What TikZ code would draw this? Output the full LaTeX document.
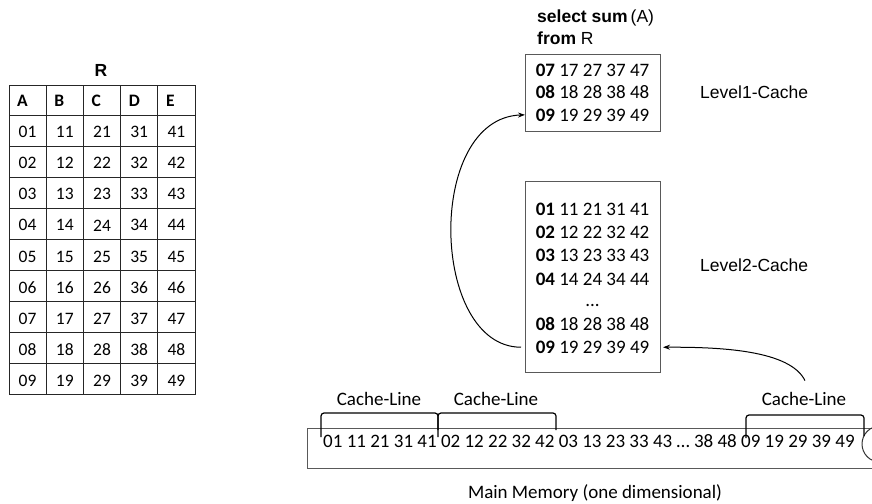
\documentclass[tikz,border=0pt]{standalone}
\usepackage{fontspec}
\setmainfont{Carlito}
\newfontfamily\arialf{Liberation Sans}
\usetikzlibrary{arrows.meta,calc}
\begin{document}
\begin{tikzpicture}[x=1pt,y=-1pt,
  cal/.style={font=\fontsize{19}{23}\selectfont, inner sep=0pt},
  tabtxt/.style={font=\fontsize{17.5}{21}\selectfont, inner sep=0pt},
  tabhead/.style={font=\bfseries\fontsize{17.5}{21}\selectfont, inner sep=0pt},
  ar/.style={font=\arialf\fontsize{17.5}{21}\selectfont, inner sep=0pt},
  cachebox/.style={draw=black!65, line width=1pt, inner sep=0pt},
  gridline/.style={line width=1pt, black!85},
  bracket/.style={line width=1.2pt, rounded corners=3pt},
  flow/.style={-{Stealth[length=7pt,width=5pt]}, line width=1pt},
]
\useasboundingbox (0,0) rectangle (872,503);
\clip (0,0) rectangle (872,503);

% ---------- table R ----------
\node[font=\arialf\bfseries\fontsize{17.5}{21}\selectfont, inner sep=0pt, anchor=base] (Rtitle) at (101,76.5) {R};
\foreach \x in {9,46.2,83.4,120.6,157.8,195}
  \draw[gridline] (\x,85) -- (\x,395);
\draw[gridline] (9,85) -- (195,85);
\foreach \k in {0,...,9}{
  \pgfmathsetmacro{\yy}{115+31.1*\k}
  \draw[gridline] (9,\yy) -- (195,\yy);
}
\foreach \h [count=\i from 0] in {A,B,C,D,E}{
  \pgfmathsetmacro{\xx}{9+37.2*\i+8}
  \node[tabhead, anchor=base west] (h\h) at (\xx,106.5) {\h};
}
\foreach \r in {1,...,9}{
  \foreach \c in {0,...,4}{
    \pgfmathsetmacro{\xx}{9+37.2*\c+18.6}
    \pgfmathsetmacro{\yy}{115+31.1*(\r-1)+15.55+1.5}
    \node[tabtxt] (t\c\r) at (\xx,\yy) {\c\r};
  }
}

% ---------- query ----------
\node[ar, anchor=base west] (q1) at (537,22.5) {\textbf{select sum}\hspace{3pt}(A)};
\node[ar, anchor=base west] (q2) at (537,45) {\textbf{from} R};

% ---------- Level1 cache ----------
\node[cachebox, minimum width=135pt, minimum height=77pt, anchor=north west] (L1) at (525,54) {};
\node[cal, anchor=base] (l1a) at (592.5,76) {\textbf{07} 17 27 37 47};
\node[cal, anchor=base] (l1b) at (592.5,98.5) {\textbf{08} 18 28 38 48};
\node[cal, anchor=base] (l1c) at (592.5,121) {\textbf{09} 19 29 39 49};
\node[ar, anchor=base west] (lv1) at (700,98) {Level1-Cache};

% ---------- Level2 cache ----------
\node[cachebox, minimum width=135pt, minimum height=191pt, anchor=north west] (L2) at (525,181) {};
\node[cal, anchor=base] (l2a) at (592.5,215) {\textbf{01} 11 21 31 41};
\node[cal, anchor=base] (l2b) at (592.5,238.4) {\textbf{02} 12 22 32 42};
\node[cal, anchor=base] (l2c) at (592.5,261.8) {\textbf{03} 13 23 33 43};
\node[cal, anchor=base] (l2d) at (592.5,285.2) {\textbf{04} 14 24 34 44};
\node[cal, anchor=base] (l2e) at (592.5,306.7) {...};
\node[cal, anchor=base] (l2h) at (592.5,330) {\textbf{08} 18 28 38 48};
\node[cal, anchor=base] (l2i) at (592.5,353.4) {\textbf{09} 19 29 39 49};
\node[ar, anchor=base west] (lv2) at (700,271) {Level2-Cache};

% ---------- main memory ----------
\node[cachebox, minimum width=583pt, minimum height=40pt, anchor=north west] (mem) at (307,428) {};
\node[cal, anchor=base west] (memtxt) at (323,447) {01 11 21 31 41 02 12 22 32 42 03 13 23 33 43 … 38 48 09 19 29 39 49};
\node[draw=black!80, line width=1pt, circle, minimum size=36pt, inner sep=0pt] (cursor) at (880,444) {};
\node[cal, anchor=base] (mm) at (595,498) {Main Memory (one dimensional)};

% ---------- cache lines ----------
\draw[bracket] (321,437) -- (321,413) -- (438,413) -- (438,437);
\draw[bracket] (438,430) -- (438,413) -- (556,413) -- (556,430);
\draw[bracket] (746,438) -- (746,415) -- (864,415) -- (864,436);
\node[cal, anchor=base] (cl1) at (379,405) {Cache-Line};
\node[cal, anchor=base] (cl2) at (496,405) {Cache-Line};
\node[cal, anchor=base] (cl3) at (804,405) {Cache-Line};

% ---------- arrows ----------
\draw[flow] ($(L2.west |- l2i)+(-4,0)$) .. controls (430,347) and (425,118) .. (L1.west |- l1c);
\draw[flow] ($(cl3.north)+(1,-11)$) .. controls (790,350) and (720,347) .. ($(L2.east |- l2i)+(2,0)$);
\end{tikzpicture}
\end{document}
